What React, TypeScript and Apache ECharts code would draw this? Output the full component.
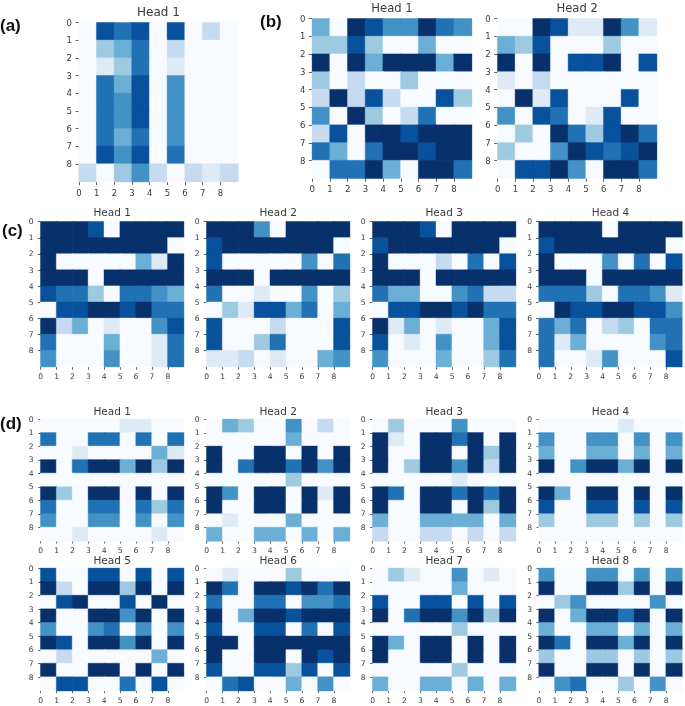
import React, { useEffect, useRef } from "react";
import * as echarts from "echarts";

const tickLabels = [0, 1, 2, 3, 4, 5, 6, 7, 8];
const palette = ["#f7fbff", "#deebf7", "#c6dbef", "#9ecae1", "#6baed6", "#4292c6", "#2171b5", "#08519c", "#08306b"];

const a1 = [
  [0, 7, 6, 7, 0, 7, 0, 2, 0],
  [0, 3, 4, 6, 0, 2, 0, 0, 0],
  [0, 1, 3, 6, 0, 1, 0, 0, 0],
  [0, 6, 4, 7, 0, 5, 0, 0, 0],
  [0, 6, 5, 7, 0, 5, 0, 0, 0],
  [0, 6, 5, 7, 0, 5, 0, 0, 0],
  [0, 6, 4, 6, 0, 5, 0, 0, 0],
  [0, 7, 5, 7, 0, 6, 0, 0, 0],
  [2, 0, 3, 5, 2, 0, 2, 1, 2],
];
const b1 = [
  [4, 0, 8, 7, 5, 5, 8, 6, 5],
  [3, 3, 7, 3, 0, 0, 4, 0, 0],
  [8, 0, 8, 4, 8, 8, 8, 4, 8],
  [3, 0, 2, 0, 0, 3, 0, 0, 0],
  [2, 8, 2, 7, 2, 0, 0, 7, 3],
  [5, 0, 8, 3, 0, 2, 6, 0, 0],
  [2, 7, 0, 8, 8, 7, 8, 8, 8],
  [6, 4, 0, 6, 8, 8, 7, 8, 8],
  [0, 6, 6, 8, 4, 0, 8, 8, 6],
];
const b2 = [
  [0, 0, 8, 7, 1, 1, 8, 5, 1],
  [4, 3, 7, 0, 0, 0, 3, 0, 0],
  [8, 0, 8, 0, 7, 7, 8, 0, 7],
  [1, 0, 2, 0, 0, 0, 0, 0, 0],
  [0, 8, 1, 7, 0, 0, 0, 7, 0],
  [5, 0, 7, 6, 0, 1, 7, 0, 0],
  [0, 3, 0, 8, 6, 3, 7, 8, 6],
  [3, 0, 0, 5, 8, 7, 6, 7, 8],
  [0, 7, 7, 8, 5, 0, 8, 8, 6],
];
const c1 = [
  [8, 8, 8, 7, 0, 8, 8, 8, 8],
  [8, 8, 8, 8, 8, 8, 8, 8, 0],
  [8, 0, 0, 0, 0, 0, 4, 1, 8],
  [8, 8, 8, 0, 8, 8, 8, 8, 8],
  [7, 6, 6, 3, 0, 6, 6, 5, 4],
  [0, 7, 7, 8, 8, 7, 8, 6, 6],
  [8, 2, 4, 0, 1, 0, 0, 5, 7],
  [6, 0, 0, 0, 4, 0, 0, 1, 6],
  [5, 0, 0, 0, 5, 0, 0, 1, 6],
];
const c2 = [
  [8, 8, 8, 5, 0, 8, 8, 8, 8],
  [7, 8, 8, 8, 8, 8, 8, 8, 0],
  [7, 0, 0, 0, 0, 0, 5, 0, 6],
  [8, 8, 8, 0, 8, 8, 8, 8, 8],
  [6, 0, 0, 1, 0, 0, 5, 0, 3],
  [0, 3, 1, 7, 7, 4, 6, 0, 4],
  [7, 0, 0, 0, 2, 0, 0, 0, 7],
  [7, 0, 0, 3, 6, 0, 0, 0, 7],
  [1, 1, 2, 0, 1, 0, 0, 4, 5],
];
const c3 = [
  [8, 8, 8, 7, 0, 8, 8, 8, 8],
  [7, 8, 8, 8, 8, 8, 8, 8, 0],
  [8, 0, 0, 0, 2, 0, 6, 0, 7],
  [8, 8, 8, 0, 8, 8, 8, 8, 8],
  [6, 4, 4, 0, 0, 5, 6, 2, 2],
  [0, 7, 7, 8, 8, 7, 8, 6, 6],
  [8, 1, 4, 0, 1, 0, 0, 4, 7],
  [7, 0, 1, 0, 5, 0, 0, 4, 7],
  [5, 0, 0, 0, 4, 0, 0, 3, 6],
];
const c4 = [
  [8, 8, 8, 8, 0, 8, 8, 8, 8],
  [7, 8, 8, 8, 8, 8, 8, 8, 0],
  [8, 0, 0, 0, 5, 0, 6, 0, 7],
  [8, 8, 8, 0, 8, 8, 8, 8, 8],
  [6, 6, 6, 3, 0, 6, 6, 5, 1],
  [0, 8, 7, 7, 8, 8, 7, 7, 5],
  [6, 4, 6, 0, 2, 3, 0, 6, 6],
  [6, 1, 4, 0, 0, 0, 0, 5, 6],
  [6, 0, 0, 1, 5, 0, 0, 0, 7],
];
const d1 = [
  [0, 0, 0, 0, 0, 1, 1, 0, 0],
  [6, 0, 0, 6, 6, 0, 6, 0, 6],
  [0, 0, 1, 0, 0, 0, 0, 4, 1],
  [8, 0, 6, 8, 8, 4, 8, 3, 8],
  [0, 0, 0, 0, 0, 0, 0, 0, 0],
  [8, 3, 0, 8, 8, 0, 8, 0, 8],
  [6, 0, 0, 6, 6, 0, 6, 3, 6],
  [5, 0, 0, 5, 5, 0, 5, 0, 5],
  [0, 0, 1, 0, 0, 0, 0, 1, 0],
];
const d2 = [
  [0, 4, 3, 0, 0, 5, 0, 2, 0],
  [0, 0, 0, 0, 0, 4, 0, 0, 0],
  [8, 0, 0, 8, 8, 0, 8, 0, 8],
  [8, 0, 6, 8, 8, 6, 8, 5, 8],
  [0, 0, 0, 0, 0, 3, 0, 0, 0],
  [8, 5, 0, 8, 8, 0, 8, 1, 8],
  [8, 0, 0, 8, 8, 0, 8, 0, 8],
  [0, 1, 0, 0, 0, 4, 0, 0, 0],
  [4, 0, 0, 4, 4, 0, 4, 0, 4],
];
const d3 = [
  [0, 3, 0, 0, 0, 5, 0, 0, 0],
  [8, 1, 0, 8, 8, 6, 8, 0, 8],
  [8, 0, 0, 8, 8, 0, 8, 3, 8],
  [8, 0, 3, 8, 8, 5, 8, 2, 8],
  [0, 0, 0, 0, 0, 1, 0, 0, 0],
  [8, 6, 0, 8, 8, 6, 8, 6, 8],
  [8, 0, 0, 8, 8, 0, 8, 3, 8],
  [4, 0, 0, 4, 4, 4, 4, 0, 4],
  [2, 0, 0, 2, 2, 0, 2, 0, 2],
];
const d4 = [
  [0, 0, 0, 0, 0, 1, 0, 0, 0],
  [5, 0, 0, 5, 5, 0, 5, 0, 5],
  [4, 0, 0, 4, 4, 0, 4, 0, 4],
  [8, 0, 5, 8, 8, 4, 8, 0, 8],
  [0, 0, 0, 0, 0, 0, 0, 0, 0],
  [8, 4, 0, 8, 8, 0, 8, 0, 8],
  [7, 0, 0, 7, 7, 0, 7, 0, 7],
  [3, 0, 0, 3, 3, 0, 3, 0, 3],
  [0, 0, 0, 0, 0, 0, 0, 0, 0],
];
const d5 = [
  [7, 0, 0, 7, 7, 0, 7, 0, 7],
  [8, 2, 0, 8, 8, 3, 8, 0, 8],
  [0, 7, 8, 0, 0, 7, 0, 8, 0],
  [8, 0, 0, 8, 8, 5, 8, 0, 8],
  [5, 0, 0, 5, 6, 0, 5, 0, 5],
  [8, 7, 0, 8, 8, 5, 8, 0, 8],
  [0, 2, 0, 0, 0, 0, 0, 4, 0],
  [8, 0, 0, 8, 8, 0, 8, 0, 8],
  [0, 7, 7, 0, 0, 6, 0, 7, 0],
];
const d6 = [
  [0, 1, 0, 0, 0, 3, 0, 0, 0],
  [8, 6, 0, 8, 8, 7, 8, 6, 8],
  [6, 0, 0, 6, 6, 0, 5, 5, 6],
  [8, 0, 4, 8, 8, 7, 8, 8, 8],
  [7, 0, 0, 7, 7, 0, 6, 0, 7],
  [8, 8, 0, 8, 8, 8, 8, 8, 8],
  [8, 0, 0, 8, 8, 0, 8, 7, 8],
  [7, 0, 0, 7, 7, 3, 7, 0, 7],
  [0, 6, 7, 0, 0, 4, 0, 5, 0],
];
const d7 = [
  [0, 3, 1, 0, 0, 5, 0, 1, 0],
  [0, 0, 0, 0, 0, 4, 0, 0, 0],
  [7, 0, 0, 7, 7, 0, 7, 0, 7],
  [8, 0, 6, 8, 8, 5, 8, 3, 8],
  [0, 0, 0, 0, 0, 3, 0, 0, 0],
  [8, 4, 0, 8, 8, 0, 8, 0, 8],
  [8, 0, 0, 8, 8, 0, 8, 0, 8],
  [0, 0, 0, 0, 0, 3, 0, 0, 0],
  [4, 0, 0, 4, 4, 0, 4, 0, 4],
];
const d8 = [
  [5, 0, 0, 5, 5, 0, 5, 0, 5],
  [8, 0, 0, 8, 8, 3, 8, 0, 8],
  [0, 3, 5, 0, 0, 0, 0, 5, 0],
  [8, 0, 4, 8, 8, 6, 8, 0, 8],
  [4, 0, 0, 4, 4, 0, 4, 0, 4],
  [8, 6, 0, 8, 8, 4, 8, 0, 8],
  [3, 0, 0, 3, 3, 0, 3, 0, 3],
  [8, 0, 0, 8, 8, 0, 8, 0, 8],
  [0, 5, 6, 0, 0, 3, 0, 5, 0],
];

const FONT = "DejaVu Sans";
const TEXT = "#3a3a3a";
const cols = [40.7, 206.7, 372.7, 539];

// x, y, w, h, title font, title centre y, x-label margin, tick length, tick font
const panels: any[] = [
  { m: a1, t: "Head 1", x: 79, y: 22.7, w: 159, h: 159, tf: 12, ty: 12.7, lm: 7, tl: 3.5, f: 8.5 },
  { m: b1, t: "Head 1", x: 312.3, y: 18.7, w: 159.4, h: 159.6, tf: 11.6, ty: 9, lm: 6.5, tl: 3.5, f: 8.5 },
  { m: b2, t: "Head 2", x: 497.7, y: 18.7, w: 159, h: 159.6, tf: 11.6, ty: 9, lm: 6.5, tl: 3.5, f: 8.5 },
  ...[c1, c2, c3, c4].map((m, i) => ({ m, t: `Head ${i + 1}`, x: cols[i], y: 221.7, w: 143, h: 145, tf: 10.5, ty: 212.3, lm: 6, tl: 3, f: 7.6 })),
  ...[d1, d2, d3, d4].map((m, i) => ({ m, t: `Head ${i + 1}`, x: cols[i], y: 419.3, w: 143, h: 121.7, tf: 10.5, ty: 411.7, lm: 5.5, tl: 2.5, f: 7.6 })),
  ...[d5, d6, d7, d8].map((m, i) => ({ m, t: `Head ${i + 5}`, x: cols[i], y: 568.3, w: 143, h: 122.4, tf: 10.5, ty: 560.7, lm: 5.5, tl: 2.5, f: 7.6 })),
];

const panelTags = [
  { t: "(a)", x: 0, y: 27 },
  { t: "(b)", x: 260, y: 23 },
  { t: "(c)", x: 2, y: 232 },
  { t: "(d)", x: 0, y: 425 },
];

export default function App() {
  const ref = useRef<HTMLDivElement>(null);
  useEffect(() => {
    const chart = echarts.init(ref.current!, undefined, { renderer: "svg" });
    const grid: any[] = [];
    const xAxis: any[] = [];
    const yAxis: any[] = [];
    const series: any[] = [];
    const title: any[] = [];

    panels.forEach((p, i) => {
      grid.push({ left: p.x, top: p.y, width: p.w, height: p.h, containLabel: false });
      const tickAxis = (inverse: boolean, margin: number) => ({
        type: "value",
        gridIndex: i,
        min: 0,
        max: 9,
        interval: 1,
        inverse,
        axisLine: { show: false },
        splitLine: { show: false },
        axisTick: { show: true, length: p.tl, customValues: tickLabels, lineStyle: { color: TEXT, width: 0.8 } },
        axisLabel: { show: true, customValues: tickLabels, margin, fontSize: p.f, fontFamily: FONT, color: TEXT },
      });
      const catAxis = (inverse: boolean) => ({
        type: "category",
        gridIndex: i,
        data: tickLabels,
        inverse,
        show: false,
      });
      xAxis.push(catAxis(false), { ...tickAxis(false, p.lm), position: "bottom" });
      yAxis.push(catAxis(true), { ...tickAxis(true, 7), position: "left" });
      const data: any[] = [];
      p.m.forEach((row: number[], r: number) =>
        row.forEach((v, c) =>
          data.push({ value: [c, r, v], itemStyle: { borderColor: palette[v], borderWidth: 0.4 } })
        )
      );
      series.push({
        type: "heatmap",
        xAxisIndex: i * 2,
        yAxisIndex: i * 2,
        data,
        silent: true,
        emphasis: { disabled: true },
      });
      title.push({
        text: p.t,
        left: p.x + p.w / 2,
        top: p.ty - p.tf * 0.6,
        textAlign: "center",
        padding: 0,
        textStyle: { fontFamily: FONT, fontSize: p.tf, fontWeight: "normal", color: TEXT },
      });
    });

    panelTags.forEach((g) => {
      title.push({
        text: g.t,
        left: g.x,
        top: g.y - 10,
        padding: 0,
        textStyle: { fontFamily: "Liberation Sans", fontSize: 17, fontWeight: "bold", color: "#111" },
      });
    });

    chart.setOption({
      animation: false,
      backgroundColor: "#fff",
      title,
      grid,
      xAxis,
      yAxis,
      visualMap: { show: false, type: "continuous", min: 0, max: 8, dimension: 2, inRange: { color: palette } },
      series,
    });
    return () => chart.dispose();
  }, []);
  return <div ref={ref} style={{ position: "fixed", left: 0, top: 0, width: 685, height: 706, filter: "blur(0.5px)" }} />;
}
